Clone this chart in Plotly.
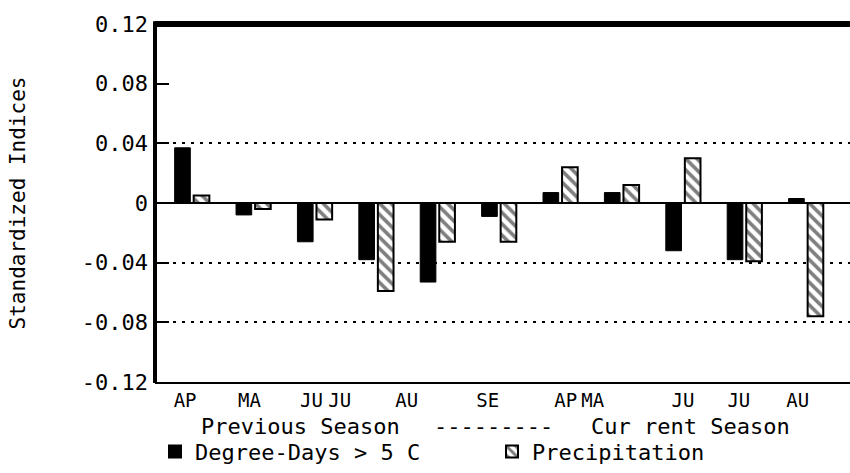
import plotly.graph_objects as go

# Month groups: previous season (AP..SE) then current season (AP..AU)
months = ["AP", "MA", "JU", "JU", "AU", "SE", "AP", "MA", "JU", "JU", "AU"]
group_idx = list(range(len(months)))

# Standardized indices per month
degree_days = [0.037, -0.008, -0.026, -0.038, -0.053, -0.009,
               0.007, 0.007, -0.032, -0.038, 0.003]
precipitation = [0.005, -0.004, -0.011, -0.059, -0.026, -0.026,
                 0.024, 0.012, 0.030, -0.039, -0.076]

# Month labels are typed under the axis, slightly off the bar pairs
label_pos = [-0.11, 0.94, 1.95, 2.41, 3.50, 4.82, 6.09, 6.53, 8.00, 8.91, 9.87]

y_ticks = [0.12, 0.08, 0.04, 0, -0.04, -0.08, -0.12]
y_ticktext = ["0.12", "0.08", "0.04", "0", "-0.04", "-0.08", "-0.12"]
dotted_levels = [0.04, -0.04, -0.08]

# Season caption typed beneath the month labels
season_parts = ["Previous Season", "---------", "Cur rent Season"]
season_x = [0.21, 0.487, 0.77]

MONO = "DejaVu Sans Mono"

fig = go.Figure()
fig.add_trace(go.Bar(
    x=group_idx, y=degree_days, name="Degree-Days > 5 C",
    width=0.255, offset=-0.28,
    marker=dict(color="black", line=dict(color="black", width=1)),
))
fig.add_trace(go.Bar(
    x=group_idx, y=precipitation, name="Precipitation",
    width=0.255, offset=0.03,
    marker=dict(color="white", line=dict(color="black", width=2),
                pattern=dict(shape="\\", size=8, solidity=0.45,
                             fgcolor="black", bgcolor="white")),
))

fig.update_layout(
    width=850, height=473,
    margin=dict(l=155, r=0, t=24, b=87),
    paper_bgcolor="white", plot_bgcolor="white",
    barmode="overlay",
    font=dict(family=MONO, color="black", size=20),
    showlegend=True,
    legend=dict(orientation="h", x=0, y=-0.195, xanchor="left", yanchor="middle",
                entrywidth=292, font=dict(family=MONO, size=22),
                bgcolor="rgba(0,0,0,0)", itemsizing="constant"),
    xaxis=dict(
        range=[-0.6, 10.72], showgrid=False, zeroline=False, automargin=False,
        tickmode="array", tickvals=label_pos, ticktext=months,
        ticks="", showline=True, linecolor="black", linewidth=2,
        tickfont=dict(family=MONO, size=19), ticklabelstandoff=0,
    ),
    yaxis=dict(
        range=[-0.12, 0.12], tickmode="array", tickvals=y_ticks, ticktext=y_ticktext,
        showgrid=False, zeroline=True, zerolinecolor="black", zerolinewidth=2,
        showline=False, automargin=False,
        ticks="inside", ticklen=14, tickwidth=2, tickcolor="black",
        tickfont=dict(family=MONO, size=22), ticklabelstandoff=6,
        title=dict(text="Standardized Indices", standoff=50,
                   font=dict(family=MONO, size=21)),
    ),
    yaxis2=dict(
        range=[-0.12, 0.12], overlaying="y", side="left", automargin=False,
        tickmode="array", tickvals=dotted_levels, showticklabels=False,
        showgrid=True, gridcolor="black", gridwidth=2, griddash="3px,6px",
        zeroline=False, showline=False, ticks="",
    ),
    shapes=[
        dict(type="line", xref="paper", yref="paper", x0=0, x1=1, y0=1, y1=1,
             line=dict(color="black", width=6)),
        dict(type="line", xref="paper", yref="paper", x0=0, x1=0, y0=-0.003, y1=1.008,
             line=dict(color="black", width=4)),
    ],
    annotations=[dict(text=t, xref="paper", yref="paper", x=sx, y=-0.124,
                      xanchor="center", yanchor="middle", showarrow=False,
                      font=dict(family=MONO, size=22))
                 for t, sx in zip(season_parts, season_x)],
)
# anchor the dotted reference lines to the same plot area
fig.add_trace(go.Scatter(x=[None], y=[None], yaxis="y2", showlegend=False, hoverinfo="skip"))

fig.write_html("out.html")
